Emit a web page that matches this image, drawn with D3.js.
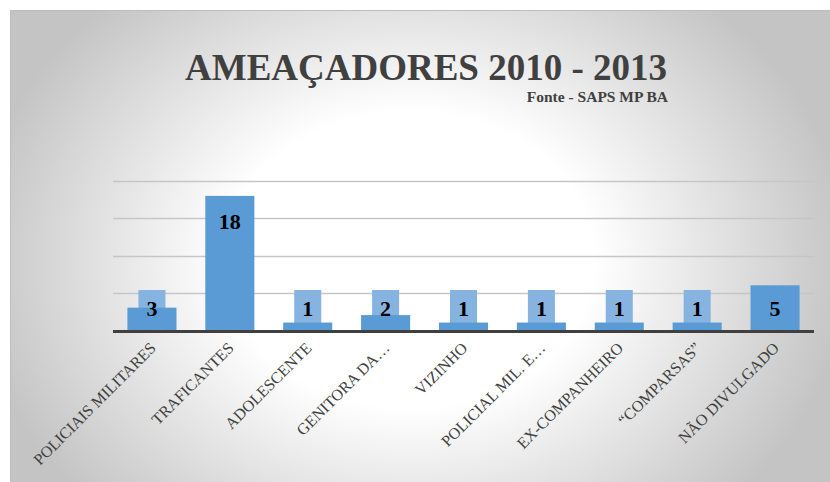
<!DOCTYPE html>
<html>
<head>
<meta charset="utf-8">
<script src="https://cdn.jsdelivr.net/npm/d3@7"></script>
<style>
  body { margin: 0; background: #fff; }
  svg { display: block; }
</style>
</head>
<body>
<svg id="chart" width="830" height="482"></svg>
<script>
const categories = [
  'POLICIAIS MILITARES', 'TRAFICANTES', 'ADOLESCENTE', 'GENITORA DA…', 'VIZINHO',
  'POLICIAL MIL. E…', 'EX-COMPANHEIRO', '“COMPARSAS”', 'NÃO DIVULGADO'
];
// bar heights as drawn in the picture (last bar is drawn taller than its label)
const values = [3, 18, 1, 2, 1, 1, 1, 1, 6];
const valueLabels = ['3', '18', '1', '2', '1', '1', '1', '1', '5'];
const gridTicks = [5, 10, 15, 20];
const title = 'AMEAÇADORES 2010 - 2013';
const subtitle = 'Fonte - SAPS MP BA';

const svg = d3.select('#chart');
const W = 830, H = 482;
const plot = { left: 113, right: 814, top: 181, bottom: 330 };
const serif = '"Liberation Serif", "Times New Roman", serif';

// background, radial gradient
const defs = svg.append('defs');
const grad = defs.append('radialGradient')
  .attr('id', 'bg')
  .attr('gradientUnits', 'userSpaceOnUse')
  .attr('cx', 410).attr('cy', 260).attr('r', 440)
  .attr('gradientTransform', 'translate(410,260) scale(1,0.8) translate(-410,-260)');
grad.append('stop').attr('offset', '0').attr('stop-color', '#ffffff');
grad.append('stop').attr('offset', '0.42').attr('stop-color', '#ffffff');
grad.append('stop').attr('offset', '1').attr('stop-color', '#c4c4c4');

svg.append('rect')
  .attr('x', 10.5).attr('y', 10.5)
  .attr('width', W).attr('height', H)
  .attr('fill', 'url(#bg)')
  .attr('stroke', '#bdbdbd');

const x = d3.scaleBand()
  .domain(categories)
  .range([plot.left, plot.right])
  .paddingInner(0.37)
  .paddingOuter(0.185);

const y = d3.scaleLinear()
  .domain([0, 20])
  .range([plot.bottom, plot.top]);

// gridlines
svg.append('g')
  .selectAll('line')
  .data(gridTicks)
  .join('line')
  .attr('x1', plot.left).attr('x2', plot.right)
  .attr('y1', d => Math.round(y(d)) + 0.5)
  .attr('y2', d => Math.round(y(d)) + 0.5)
  .attr('stroke', '#c6c6c6')
  .attr('stroke-width', 1.3);

const data = categories.map((c, i) => ({ cat: c, value: values[i], label: valueLabels[i] }));
const labelY = d => Math.min(y(d.value) + 25, y(0) - 22);

// label boxes, behind the bars
svg.append('g')
  .selectAll('rect')
  .data(data)
  .join('rect')
  .attr('x', d => x(d.cat) + x.bandwidth() / 2 - 13.5)
  .attr('y', d => labelY(d) - 18)
  .attr('width', 27)
  .attr('height', 36)
  .attr('fill', '#86b3e0');

// bars
svg.append('g')
  .selectAll('rect')
  .data(data)
  .join('rect')
  .attr('x', d => x(d.cat))
  .attr('y', d => y(d.value))
  .attr('width', x.bandwidth())
  .attr('height', d => y(0) - y(d.value))
  .attr('fill', '#5b9bd5');

// value labels
svg.append('g')
  .selectAll('text')
  .data(data)
  .join('text')
  .attr('x', d => x(d.cat) + x.bandwidth() / 2)
  .attr('y', d => labelY(d))
  .attr('dy', '0.35em')
  .attr('text-anchor', 'middle')
  .style('font-family', serif)
  .style('font-weight', 'bold')
  .style('font-size', '22px')
  .attr('fill', '#000')
  .text(d => d.label);

// baseline
svg.append('line')
  .attr('x1', plot.left).attr('x2', plot.right)
  .attr('y1', y(0) + 1.5).attr('y2', y(0) + 1.5)
  .attr('stroke', '#404040')
  .attr('stroke-width', 3);

// category labels
svg.append('g')
  .selectAll('text')
  .data(categories)
  .join('text')
  .attr('transform', d => `translate(${x(d) + x.bandwidth() / 2 + 1},${plot.bottom + 15}) rotate(-45)`)
  .attr('text-anchor', 'end')
  .attr('dy', '0.35em')
  .style('font-family', serif)
  .style('font-size', '16px')
  .attr('fill', '#404040')
  .text(d => d);

// titles
svg.append('text')
  .attr('x', 426).attr('y', 80)
  .attr('text-anchor', 'middle')
  .style('font-family', serif)
  .style('font-weight', 'bold')
  .style('font-size', '37px')
  .attr('fill', '#404040')
  .text(title);

svg.append('text')
  .attr('x', 668).attr('y', 102)
  .attr('text-anchor', 'end')
  .style('font-family', serif)
  .style('font-weight', 'bold')
  .style('font-size', '15.5px')
  .attr('fill', '#404040')
  .text(subtitle);
</script>
</body>
</html>
